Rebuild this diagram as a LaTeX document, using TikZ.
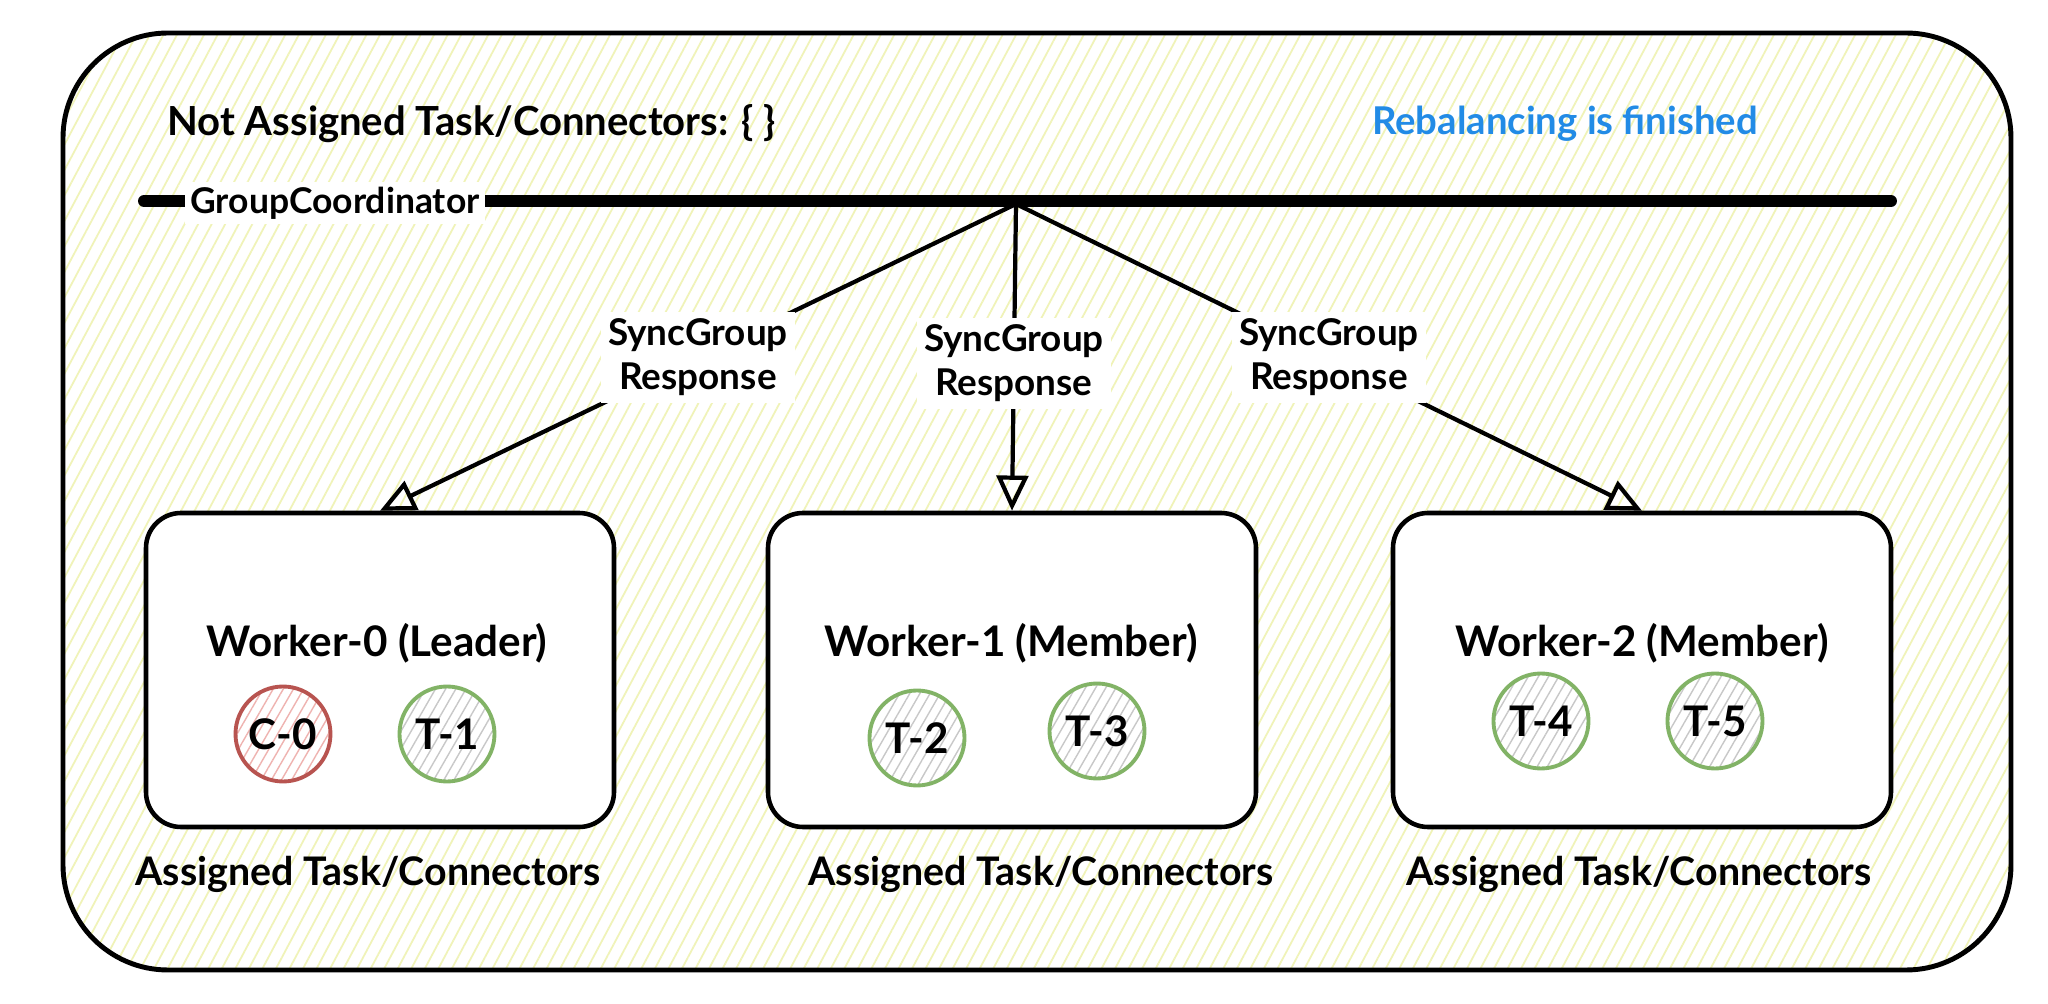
\documentclass[tikz,border=0pt]{standalone}
\usepackage{fontspec}
\setmainfont{Lato}
\usetikzlibrary{arrows.meta,patterns.meta}

\definecolor{hatchyellow}{HTML}{F0F3B8}
\definecolor{doneblue}{HTML}{228BE6}
\definecolor{connred}{HTML}{B85450}
\definecolor{connpink}{HTML}{EFB3B0}
\definecolor{taskgreen}{HTML}{82B366}
\definecolor{taskgray}{HTML}{C8C8C8}

\tikzset{
  worker/.style={draw, line width=1.3pt, rounded corners=0.35cm, fill=white,
    minimum height=3.14cm, inner sep=0pt},
  label/.style={font=\fontsize{12}{14}\selectfont\bfseries},
  caption/.style={font=\fontsize{11.2}{13}\selectfont\bfseries},
  conn/.style={circle, draw=connred, line width=1.1pt, minimum size=0.95cm, inner sep=0pt,
    pattern={Lines[angle=60,distance=2.5pt,line width=0.4pt]}, pattern color=connpink,
    font=\fontsize{12}{14}\selectfont\bfseries},
  task/.style={conn, draw=taskgreen, pattern color=taskgray},
  sync/.style={fill=white, inner sep=2pt, align=center,
    font=\fontsize{10.5}{12.5}\selectfont\bfseries},
  syncarrow/.style={line width=1.2pt, -{Triangle[open,length=10pt,width=9pt]}}
}

\begin{document}
\begin{tikzpicture}
    \useasboundingbox (0,0) rectangle (20.48,10.04);

    % Cadre du groupe (fond hachure jaune)
    \fill[white, rounded corners=1.05cm] (0.63,0.34) rectangle (20.11,9.71);
    \fill[pattern={Lines[angle=62,distance=3.4pt,line width=0.5pt]}, pattern color=hatchyellow,
      rounded corners=1.05cm] (0.63,0.34) rectangle (20.11,9.71);
    \draw[line width=1.4pt, rounded corners=1.05cm] (0.63,0.34) rectangle (20.11,9.71);

    % Textes du haut
    \node[caption, font=\fontsize{11.4}{13}\selectfont\bfseries, anchor=west] (todo) at (1.55,8.80) {Not Assigned Task/Connectors: \{ \}};
    \node[caption, font=\fontsize{10.9}{13}\selectfont\bfseries, text=doneblue] (done) at (15.65,8.80) {Rebalancing is finished};

    % GroupCoordinator
    \draw[line width=3.4pt, line cap=round] (1.44,8.03) -- (18.91,8.03);
    \node[font=\fontsize{10.1}{12}\selectfont\bfseries, fill=white, inner sep=1.5pt] (gc) at (3.35,8.01) {GroupCoordinator};
    \coordinate (hub) at (10.16,8.0);

    % Workers
    \node[worker, minimum width=4.68cm] (w0) at (3.80,3.34) {};
    \node[worker, minimum width=4.88cm] (w1) at (10.12,3.34) {};
    \node[worker, minimum width=4.98cm] (w2) at (16.42,3.34) {};

    \node[label] (w0name) at (3.77,3.61) {Worker-0 (Leader)};
    \node[label] (w1name) at (10.11,3.61) {Worker-1 (Member)};
    \node[label] (w2name) at (16.42,3.61) {Worker-2 (Member)};

    % Taches et connecteurs
    \node[conn] (c0) at (2.83,2.70) {C-0};
    \node[task] (t1) at (4.47,2.70) {T-1};
    \node[task] (t2) at (9.17,2.66) {T-2};
    \node[task] (t3) at (10.97,2.73) {T-3};
    \node[task] (t4) at (15.41,2.83) {T-4};
    \node[task] (t5) at (17.15,2.83) {T-5};

    \node[caption] (a0) at (3.68,1.30) {Assigned Task/Connectors};
    \node[caption] (a1) at (10.41,1.30) {Assigned Task/Connectors};
    \node[caption] (a2) at (16.39,1.30) {Assigned Task/Connectors};

    % Reponses SyncGroup
    \draw[syncarrow] (hub) -- node[sync] {SyncGroup\\Response} (w0.north);
    \draw[syncarrow] (hub) -- node[sync, pos=0.52] {SyncGroup\\Response} (w1.north);
    \draw[syncarrow] (hub) -- node[sync] {SyncGroup\\Response} (w2.north);

\end{tikzpicture}
\end{document}
